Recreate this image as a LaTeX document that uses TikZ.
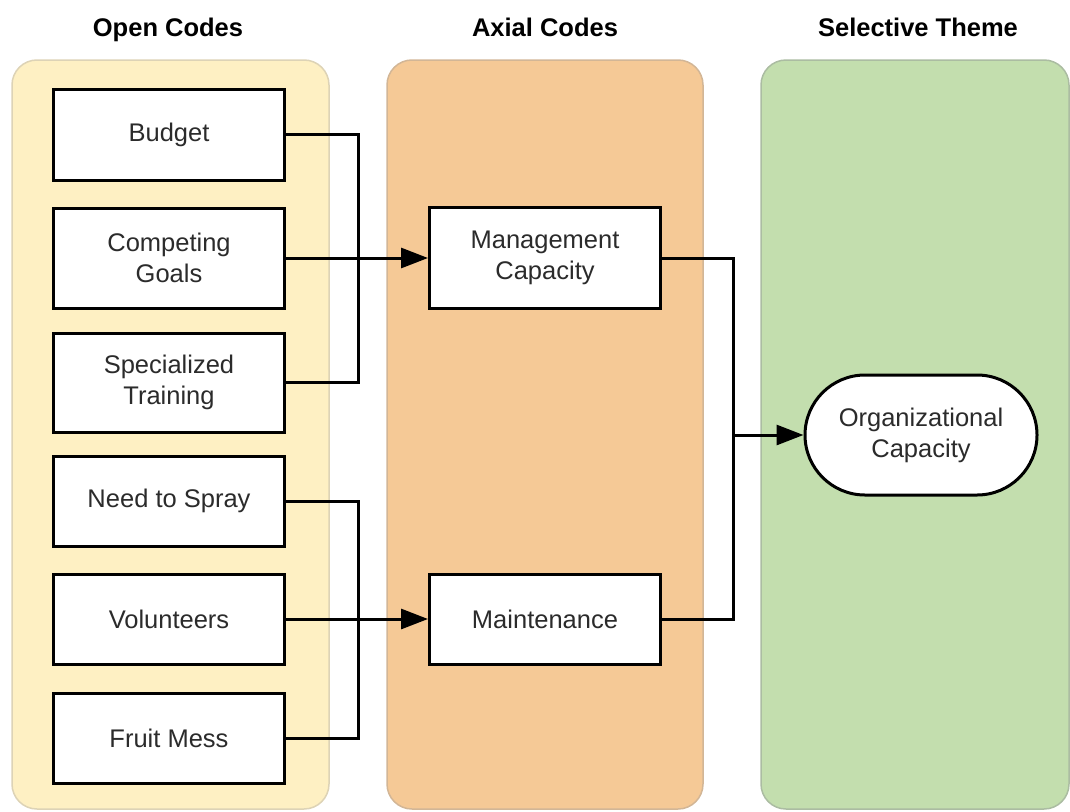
\documentclass[tikz,border=0pt]{standalone}
\usepackage{fontspec}
\setmainfont{Liberation Sans}
\usetikzlibrary{arrows.meta}
\definecolor{openfill}{HTML}{FEF0C3}
\definecolor{openedge}{HTML}{DDD3B6}
\definecolor{axialfill}{HTML}{F5C996}
\definecolor{axialedge}{HTML}{D2B696}
\definecolor{themefill}{HTML}{C3DEAE}
\definecolor{themeedge}{HTML}{ABBCA2}
\definecolor{ink}{HTML}{2B2B2B}
\tikzset{
  panel/.style={draw, line width=1.5pt, rounded corners=25pt},
  codebox/.style={draw=black, fill=white, line width=3pt, minimum width=231pt,
    inner sep=0pt, align=center, text=ink, font=\fontsize{25.5}{31}\selectfont},
  themebox/.style={codebox, rounded corners=60pt, minimum height=120pt, minimum width=232pt},
  heading/.style={font=\fontsize{25.5}{30}\selectfont\bfseries, text=black, anchor=base},
  link/.style={draw=black, line width=3pt},
  arrowlink/.style={link, -{Triangle[length=27pt,width=20pt]}},
}
\begin{document}
\begin{tikzpicture}[x=1pt, y=-1pt]
  \useasboundingbox (0,0) rectangle (1070,811);
  % column backgrounds
  \draw[panel, draw=openedge, fill=openfill] (12,60) rectangle (329,809);
  \draw[panel, draw=axialedge, fill=axialfill] (387,60) rectangle (703,809);
  \draw[panel, draw=themeedge, fill=themefill] (761,60) rectangle (1069,809);
  % column headings
  \node[heading] (hopen) at (168,36) {Open Codes};
  \node[heading] (haxial) at (545,36) {Axial Codes};
  \node[heading] (htheme) at (918,36) {Selective Theme};
  % open codes
  \node[codebox, minimum height=91pt] (budget) at (169,134.5) {Budget};
  \node[codebox, minimum height=100pt] (goals) at (169,258) {Competing\\Goals};
  \node[codebox, minimum height=99pt] (training) at (169,382.5) {Specialized\\Training};
  \node[codebox, minimum height=90pt] (spray) at (169,501) {Need to Spray};
  \node[codebox, minimum height=90pt] (volunteers) at (169,619) {Volunteers};
  \node[codebox, minimum height=90pt] (mess) at (169,738) {Fruit Mess};
  % axial codes
  \node[codebox, minimum height=101pt] (management) at (545,258) {Management\\Capacity};
  \node[codebox, minimum height=90pt] (maintenance) at (545,619) {Maintenance};
  % selective theme
  \node[themebox] (organizational) at (921,435) {Organizational\\Capacity};
  % bus lines
  \coordinate (busA) at (358,0);
  \coordinate (busB) at (733,0);
  \draw[link] (budget.east) -- (budget.east -| busA) -- (training.east -| busA) -- (training.east);
  \draw[arrowlink] (goals.east) -- (management.west);
  \draw[link] (spray.east) -- (spray.east -| busA) -- (mess.east -| busA) -- (mess.east);
  \draw[arrowlink] (volunteers.east) -- (maintenance.west);
  \draw[link] (management.east) -- (management.east -| busB) -- (maintenance.east -| busB) -- (maintenance.east);
  \coordinate (join) at (organizational.west -| busB);
  \draw[arrowlink] (join) -- (organizational.west);
\end{tikzpicture}
\end{document}
